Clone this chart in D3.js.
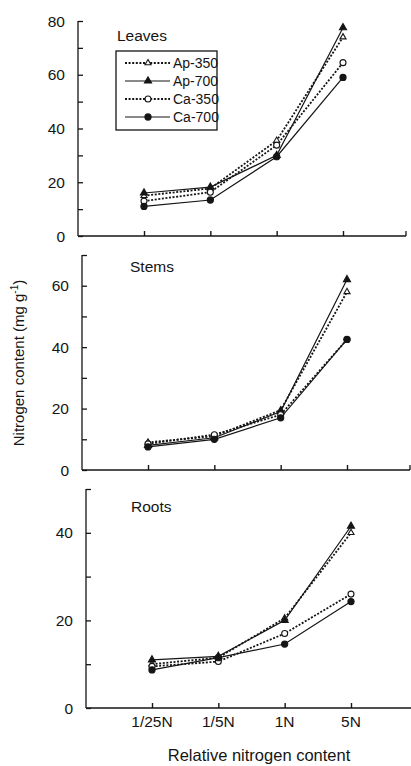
<!DOCTYPE html>
<html>
<head>
<meta charset="utf-8">
<script src="https://cdn.jsdelivr.net/npm/d3@7"></script>
<style>
  body { margin: 0; background: #fff; }
  svg { display: block; font-family: "Liberation Sans", Arial, sans-serif; }
</style>
</head>
<body>
<div id="chart"></div>
<script>
// nitrogen content by tissue, three stacked panels
var categories = ["1/25N", "1/5N", "1N", "5N"];
var series_names = ["Ap-350", "Ap-700", "Ca-350", "Ca-700"];

// values per series, same order as series_names
var leaves_values = [
  [15, 17.7, 35.5, 74],
  [16, 18.2, 30, 77.5],
  [13, 16.3, 33.8, 64.5],
  [11, 13.4, 29.5, 59],
];
var stems_values = [
  [9, 11, 19.5, 58],
  [8, 10.5, 19, 62],
  [8.5, 11.5, 18, 42.5],
  [7.5, 10, 17, 42.5],
];
var roots_values = [
  [10, 11.5, 20.5, 40],
  [11, 11.8, 20, 41.5],
  [9.5, 10.6, 17, 26],
  [8.7, 11.5, 14.6, 24.3],
];

var leaves_ticks = [0, 20, 40, 60, 80];
var stems_ticks = [0, 20, 40, 60];
var roots_ticks = [0, 20, 40];

var width = 411;
var height = 766;
var ink = "#151515";

var svg = d3
  .select("#chart")
  .append("svg")
  .attr("width", width)
  .attr("height", height);

// layout of each panel (scan is a bit skewed so x0 shifts)
var panels = [
  { title: "Leaves", values: leaves_values, ticks: leaves_ticks, ymax: 80,
    x0: 78, top: 21, bottom: 236, tx: 117, ty: 41, legend: true, xlabels: false },
  { title: "Stems", values: stems_values, ticks: stems_ticks, ymax: 70,
    x0: 82, top: 255, bottom: 470, tx: 130, ty: 272, legend: false, xlabels: false },
  { title: "Roots", values: roots_values, ticks: roots_ticks, ymax: 50,
    x0: 86, top: 489, bottom: 708, tx: 131, ty: 512, legend: false, xlabels: true },
];

var styles = [
  { dash: "2,1.6", sw: 1.8, sym: d3.symbolTriangle, size: 16, fill: "#fff" },
  { dash: null, sw: 1.2, sym: d3.symbolTriangle, size: 22, fill: ink },
  { dash: "2,1.6", sw: 1.8, sym: d3.symbolCircle, size: 28, fill: "#fff" },
  { dash: null, sw: 1.2, sym: d3.symbolCircle, size: 30, fill: ink },
];

panels.forEach(function (p) {
  var g = svg.append("g");

  var x = d3
    .scalePoint()
    .domain(categories)
    .range([p.x0 + 66, p.x0 + 265]);

  var y = d3.scaleLinear().domain([0, p.ymax]).range([p.bottom, p.top]);

  // y axis: minor ticks every 10, labels every 20
  var yAxis = d3
    .axisRight(y)
    .tickValues(d3.range(0, p.ymax + 1, 10))
    .tickSize(5)
    .tickFormat("");
  var ya = g
    .append("g")
    .attr("transform", "translate(" + p.x0 + ",0)")
    .call(yAxis);
  ya.select(".domain").attr("d", "M0," + p.top + "V" + p.bottom);
  ya.selectAll("line, path").attr("stroke", ink).attr("stroke-width", 1.3);

  g.selectAll(".ylab")
    .data(p.ticks)
    .enter()
    .append("text")
    .attr("x", p.x0 - 13)
    .attr("y", function (d) { return y(d); })
    .attr("dy", "0.36em")
    .attr("text-anchor", "end")
    .attr("font-size", 15.5)
    .attr("fill", ink)
    .text(function (d) { return d; });

  // x axis with small upward ticks
  var xa = g
    .append("g")
    .attr("transform", "translate(0," + p.bottom + ")")
    .call(d3.axisTop(x).tickSize(5).tickFormat(""));
  xa.select(".domain").attr("d", "M" + p.x0 + ",0H" + (p.x0 + 328));
  xa.selectAll("line, path").attr("stroke", ink).attr("stroke-width", 1.4);
  xa.append("line")
    .attr("x1", p.x0 + 328)
    .attr("x2", p.x0 + 328)
    .attr("y1", 0)
    .attr("y2", -5)
    .attr("stroke", ink)
    .attr("stroke-width", 1.3);

  if (p.xlabels) {
    g.selectAll(".xlab")
      .data(categories)
      .enter()
      .append("text")
      .attr("x", function (d) { return x(d); })
      .attr("y", p.bottom + 19)
      .attr("text-anchor", "middle")
      .attr("font-size", 15.5)
      .attr("fill", ink)
      .text(function (d) { return d; });
  }

  // panel title
  g.append("text")
    .attr("x", p.tx)
    .attr("y", p.ty)
    .attr("font-size", 15.5)
    .attr("fill", ink)
    .text(p.title);

  var line = d3
    .line()
    .x(function (d, i) { return x(categories[i]); })
    .y(function (d) { return y(d); });

  // lines first, markers on top
  p.values.forEach(function (vals, s) {
    g.append("path")
      .datum(vals)
      .attr("d", line)
      .attr("fill", "none")
      .attr("stroke", ink)
      .attr("stroke-width", styles[s].sw)
      .attr("stroke-dasharray", styles[s].dash);
  });
  p.values.forEach(function (vals, s) {
    g.selectAll(".m" + s)
      .data(vals)
      .enter()
      .append("path")
      .attr("d", d3.symbol().type(styles[s].sym).size(styles[s].size))
      .attr("transform", function (d, i) {
        return "translate(" + x(categories[i]) + "," + y(d) + ")";
      })
      .attr("fill", styles[s].fill)
      .attr("stroke", ink)
      .attr("stroke-width", 1.1);
  });

  if (p.legend) createLegend(g);
});

function createLegend(g) {
  var lg = g.append("g");
  lg.append("rect")
    .attr("x", 116)
    .attr("y", 51)
    .attr("width", 101)
    .attr("height", 79)
    .attr("fill", "#fff")
    .attr("stroke", ink)
    .attr("stroke-width", 1.3);
  for (var i in series_names) {
    var yy = 63 + i * 18;
    lg.append("line")
      .attr("x1", 125)
      .attr("x2", 170)
      .attr("y1", yy)
      .attr("y2", yy)
      .attr("stroke", ink)
      .attr("stroke-width", styles[i].sw)
      .attr("stroke-dasharray", styles[i].dash);
    lg.append("path")
      .attr("d", d3.symbol().type(styles[i].sym).size(styles[i].size))
      .attr("transform", "translate(148," + yy + ")")
      .attr("fill", styles[i].fill)
      .attr("stroke", ink)
      .attr("stroke-width", 1.1);
    lg.append("text")
      .attr("x", 173)
      .attr("y", yy)
      .attr("dy", "0.36em")
      .attr("font-size", 14)
      .attr("fill", ink)
      .text(series_names[i]);
  }
}

// axis titles
svg
  .append("text")
  .attr("transform", "translate(24,363) rotate(-90)")
  .attr("text-anchor", "middle")
  .attr("font-size", 15)
  .attr("fill", ink)
  .text("Nitrogen content (mg g")
  .append("tspan")
  .attr("font-size", 10)
  .attr("dy", -6)
  .text("-1")
  .append("tspan")
  .attr("font-size", 15)
  .attr("dy", 6)
  .text(")");

svg
  .append("text")
  .attr("x", 259)
  .attr("y", 761)
  .attr("text-anchor", "middle")
  .attr("font-size", 16.5)
  .attr("fill", ink)
  .text("Relative nitrogen content");
</script>
</body>
</html>
